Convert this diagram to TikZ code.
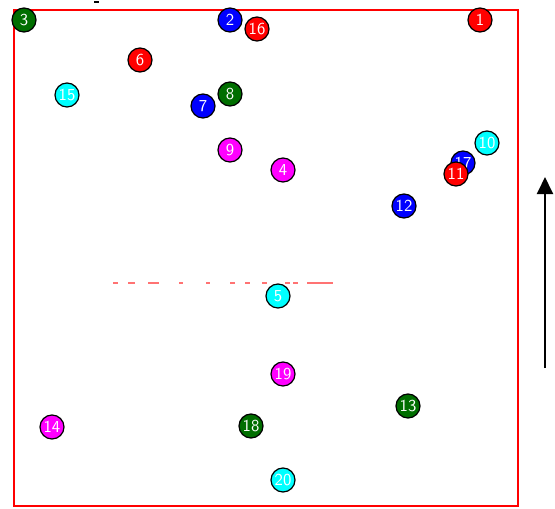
\documentclass[tikz,border=0pt]{standalone}
\usetikzlibrary{arrows.meta}
\definecolor{ballred}{rgb}{1.0,0.0,0.0}
\definecolor{ballblue}{rgb}{0.0,0.0,1.0}
\definecolor{ballgreen}{rgb}{0.0,0.43,0.0}
\definecolor{ballcyan}{rgb}{0.0,1.0,1.0}
\definecolor{ballmagenta}{rgb}{1.0,0.0,1.0}
\definecolor{tracered}{rgb}{1.0,0.45,0.45}

\begin{document}
\begin{tikzpicture}[
  x=0.02cm, y=-0.02cm,
  every node/.style={font=\fontsize{9.5}{10}\selectfont\sffamily},
  ball/.style={circle, draw=black, line width=0.7pt, text=white, minimum size=4.8mm, inner sep=0pt},
  redball/.style={ball, fill=ballred},
  blueball/.style={ball, fill=ballblue},
  greenball/.style={ball, fill=ballgreen},
  cyanball/.style={ball, fill=ballcyan},
  magentaball/.style={ball, fill=ballmagenta},
  frame/.style={draw=ballred, line width=1.3pt},
  trace/.style={tracered, line width=0.8pt},
  upstroke/.style={-{Triangle[length=3.4mm, width=3.2mm]}, line width=1.1pt, black},
]
\useasboundingbox (0,0) rectangle (555,508);

% ---- box ----
\draw[frame] (14,10) rectangle (518,506);
\draw[black, line width=0.8pt] (94,2) -- (99,2);

% ---- broken red trace ----
\foreach \a/\b in {113/118, 128/135, 148/159, 179/183, 206/210, 230/235,
                   245/250, 262/267, 285/290, 293/298, 307/333}
  \draw[trace] (\a,283) -- (\b,283);

% ---- balls ----
\node[greenball]   (b3)  at (24,20)   {3};
\node[blueball]    (b2)  at (230,20)  {2};
\node[redball]     (b16) at (257,29)  {16};
\node[redball]     (b1)  at (480,20)  {1};
\node[redball]     (b6)  at (140,60)  {6};
\node[cyanball]    (b15) at (67,95)   {15};
\node[greenball]   (b8)  at (230,94)  {8};
\node[blueball]    (b7)  at (203,106) {7};
\node[magentaball] (b9)  at (230,150) {9};
\node[magentaball] (b4)  at (283,170) {4};
\node[cyanball]    (b10) at (487,143) {10};
\node[blueball]    (b17) at (463,163) {17};
\node[redball]     (b11) at (456,174) {11};
\node[blueball]    (b12) at (404,206) {12};
\node[cyanball]    (b5)  at (278,296) {5};
\node[magentaball] (b19) at (283,374) {19};
\node[greenball]   (b13) at (408,406) {13};
\node[magentaball] (b14) at (52,427)  {14};
\node[greenball]   (b18) at (251,426) {18};
\node[cyanball]    (b20) at (283,480) {20};

% ---- arrow ----
\coordinate (arrowfoot) at (545,368);
\coordinate (arrowtip) at (545,177);
\draw[upstroke] (arrowfoot) -- (arrowtip);

\end{tikzpicture}
\end{document}
